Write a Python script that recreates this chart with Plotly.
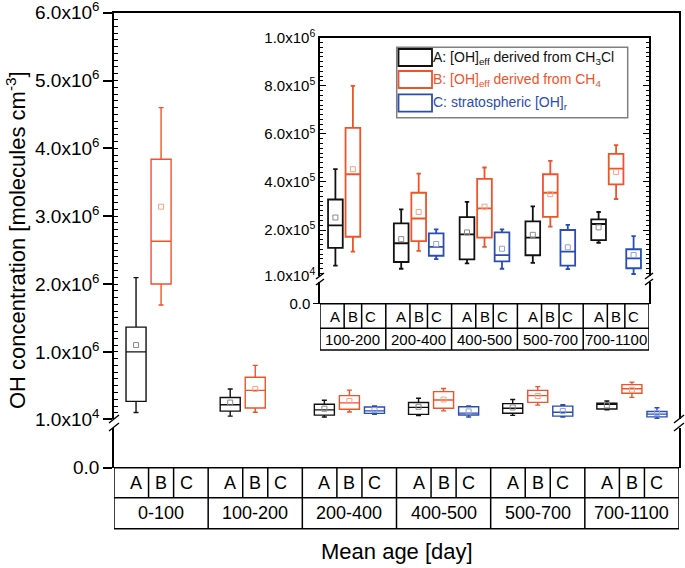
import plotly.graph_objects as go

W, H = 685, 568

groups = ["0-100", "100-200", "200-400", "400-500", "500-700", "700-1100"]
series = ["A", "B", "C"]
y_ticks_main = [1e4, 1e6, 2e6, 3e6, 4e6, 5e6, 6e6]
y_ticklabels_main = ["1.0x10<sup>4</sup>", "1.0x10<sup>6</sup>", "2.0x10<sup>6</sup>",
                     "3.0x10<sup>6</sup>", "4.0x10<sup>6</sup>", "5.0x10<sup>6</sup>",
                     "6.0x10<sup>6</sup>"]
y_ticks_inset = [1e4, 2e5, 4e5, 6e5, 8e5, 1e6]
y_ticklabels_inset = ["1.0x10<sup>4</sup>", "2.0x10<sup>5</sup>", "4.0x10<sup>5</sup>",
                      "6.0x10<sup>5</sup>", "8.0x10<sup>5</sup>", "1.0x10<sup>6</sup>"]

# Series A: [OH]eff derived from CH3Cl
a_low = [1.06e5, 0.52e5, 0.39e5, 0.61e5, 0.63e5, 1.47e5]
a_q1 = [2.70e5, 1.26e5, 0.67e5, 0.78e5, 0.95e5, 1.58e5]
a_med = [1.00e6, 2.19e5, 1.45e5, 1.82e5, 1.68e5, 2.25e5]
a_q3 = [1.365e6, 3.27e5, 2.28e5, 2.54e5, 2.36e5, 2.44e5]
a_high = [2.095e6, 4.53e5, 2.86e5, 3.17e5, 2.98e5, 2.75e5]
a_mean = [1.10e6, 2.52e5, 1.62e5, 1.90e5, 1.80e5, 2.11e5]
# Series B: [OH]eff derived from CH4
b_low = [1.69e6, 1.10e5, 1.13e5, 1.30e5, 2.14e5, 3.29e5]
b_q1 = [2.00e6, 1.72e5, 1.54e5, 1.68e5, 2.55e5, 3.90e5]
b_med = [2.63e6, 4.32e5, 2.48e5, 2.90e5, 3.55e5, 4.55e5]
b_q3 = [3.84e6, 6.25e5, 3.55e5, 4.13e5, 4.32e5, 5.17e5]
b_high = [4.60e6, 8.00e5, 4.35e5, 4.60e5, 4.88e5, 5.53e5]
b_mean = [3.14e6, 4.53e5, 2.75e5, 2.97e5, 3.49e5, 4.41e5]
# Series C: stratospheric [OH]r
c_low = [None, None, 0.79e5, 0.39e5, 0.37e5, 0.17e5]
c_q1 = [None, None, 0.93e5, 0.70e5, 0.52e5, 0.41e5]
c_med = [None, None, 1.30e5, 0.96e5, 1.10e5, 0.82e5]
c_q3 = [None, None, 1.86e5, 1.90e5, 2.00e5, 1.20e5]
c_high = [None, None, 2.03e5, 2.03e5, 2.21e5, 1.75e5]
c_mean = [None, None, 1.42e5, 1.22e5, 1.28e5, 0.96e5]

legend_texts = ["A: [OH]<sub>eff</sub> derived from CH<sub>3</sub>Cl",
                "B: [OH]<sub>eff</sub> derived from CH<sub>4</sub>",
                "C: stratospheric [OH]<sub>r</sub>"]

stats = {
    "A": (a_low, a_q1, a_med, a_q3, a_high, a_mean),
    "B": (b_low, b_q1, b_med, b_q3, b_high, b_mean),
    "C": (c_low, c_q1, c_med, c_q3, c_high, c_mean),
}
colors = {"A": "#111111", "B": "#F0522A", "C": "#2A4DB5"}
mean_colors = {"A": "#8a8a8a", "B": "#F6A488", "C": "#8FA2DC"}

FONT = "Liberation Sans, Arial, sans-serif"
GW = 3.76   # group width (in box-spacing units)
OFF = 0.88  # offset of first box from group start


def X(px):
    return px / W


def Y(py):
    return 1 - py / H


def pos(g, k):
    return g * GW + OFF + k


def tf(size, color="black"):
    return dict(family=FONT, color=color, size=size)


fig = go.Figure()

# ---------- boxes ----------
for name, (lo, q1, me, q3, hi, mn) in stats.items():
    for inset in (False, True):
        xs, L, Q1, M, Q3, U, MN = [], [], [], [], [], [], []
        for g in range(len(groups)):
            if lo[g] is None:
                continue
            if inset and g == 0:
                continue
            gg = g - 1 if inset else g
            xs.append(pos(gg, series.index(name)))
            L.append(lo[g]); Q1.append(q1[g]); M.append(me[g])
            Q3.append(q3[g]); U.append(hi[g]); MN.append(mn[g])
        xa, ya = ("x2", "y2") if inset else ("x", "y")
        fig.add_trace(go.Box(
            x=xs, q1=Q1, median=M, q3=Q3, lowerfence=L, upperfence=U,
            xaxis=xa, yaxis=ya, width=0.84 if inset else 0.8,
            whiskerwidth=0.3 if inset else 0.25,
            fillcolor="rgba(0,0,0,0)",
            line=dict(color=colors[name], width=1.8 if inset else 1.4),
            showlegend=False, hoverinfo="skip", boxpoints=False))
        fig.add_trace(go.Scatter(
            x=xs, y=MN, xaxis=xa, yaxis=ya, mode="markers",
            marker=dict(symbol="square-open", size=5, color=mean_colors[name],
                        line=dict(width=1, color=mean_colors[name])),
            showlegend=False, hoverinfo="skip"))

# dummy traces to create the lower (0.0) axis segments
fig.add_trace(go.Scatter(x=[None], y=[None], xaxis="x", yaxis="y3", showlegend=False))
fig.add_trace(go.Scatter(x=[None], y=[None], xaxis="x2", yaxis="y4", showlegend=False))

ycommon = dict(showgrid=False, zeroline=False, linecolor="black", tickcolor="black",
               automargin=False, ticklabeloverflow="allow")

fig.update_layout(
    width=W, height=H, autosize=False,
    margin=dict(l=0, r=0, t=0, b=0, pad=0, autoexpand=False),
    paper_bgcolor="white", plot_bgcolor="rgba(0,0,0,0)",
    boxmode="overlay",
    font=dict(family=FONT, color="black"),
    xaxis=dict(domain=[X(114), X(679)], range=[0, 6 * GW], anchor="y", side="top",
               showline=True, linewidth=1.5, showticklabels=False, ticks="",
               showgrid=False, zeroline=False, linecolor="black", automargin=False),
    yaxis=dict(domain=[Y(419), Y(12.7)], range=[1e4, 6e6], anchor="x",
               tickvals=y_ticks_main, ticktext=y_ticklabels_main,
               ticks="outside", ticklen=9, tickwidth=1.5,
               minor=dict(ticks="inside", ticklen=4, dtick=1e5, tick0=0, tickwidth=1,
                          tickcolor="black", showgrid=False),
               showline=True, mirror=True, linewidth=1.5, tickfont=tf(19), **ycommon),
    yaxis3=dict(domain=[Y(467.7), Y(428)], range=[0, 1], anchor="x",
                tickvals=[0], ticktext=["0.0"], ticks="outside", ticklen=9, tickwidth=1.5,
                showline=True, mirror=True, linewidth=1.5, tickfont=tf(19), **ycommon),
    xaxis2=dict(domain=[X(320), X(649)], range=[0, 5 * GW], anchor="y2", side="top",
                showline=True, linewidth=1.5, showticklabels=False, ticks="",
                showgrid=False, zeroline=False, linecolor="black", automargin=False),
    yaxis2=dict(domain=[Y(275.7), Y(37.7)], range=[1e4, 1e6], anchor="x2",
                tickvals=y_ticks_inset, ticktext=y_ticklabels_inset,
                ticks="inside", ticklen=6, tickwidth=1.3,
                minor=dict(ticks="inside", ticklen=3, dtick=2e4, tick0=0, tickwidth=1,
                           tickcolor="black", showgrid=False),
                showline=True, mirror="allticks", linewidth=1.5, tickfont=tf(15), **ycommon),
    yaxis4=dict(domain=[Y(303.7), Y(282)], range=[0, 1], anchor="x2",
                tickvals=[0], ticktext=["0.0"], ticks="outside", ticklen=5, tickwidth=1.3,
                showline=True, mirror=True, linewidth=1.5, tickfont=tf(15), **ycommon),
)

shapes = []
annotations = []


def ann(x, y, text, size, xref="paper", color="black", xanchor="center", angle=0):
    annotations.append(dict(xref=xref, yref="paper", x=x, y=y, text=text, showarrow=False,
                            xanchor=xanchor, yanchor="middle", textangle=angle,
                            font=tf(size, color)))


def table(xref, ngroups, group_offset, t0, t1, t2, fsize):
    line = dict(color="black", width=1.5)
    for yy in (t0, t1, t2):
        shapes.append(dict(type="line", xref=xref, yref="paper", x0=0, x1=ngroups * GW,
                           y0=Y(yy), y1=Y(yy), line=line))
    for g in range(ngroups + 1):
        shapes.append(dict(type="line", xref=xref, yref="paper", x0=g * GW, x1=g * GW,
                           y0=Y(t0), y1=Y(t2), line=line))
    for g in range(ngroups):
        for d in (0.5, 1.5):
            xv = g * GW + OFF + d
            shapes.append(dict(type="line", xref=xref, yref="paper", x0=xv, x1=xv,
                               y0=Y(t0), y1=Y(t1), line=line))
        for k, s in enumerate(series):
            ann(pos(g, k), Y((t0 + t1) / 2), s, fsize, xref=xref)
        ann(g * GW + GW / 2, Y((t1 + t2) / 2), groups[g + group_offset], fsize, xref=xref)


table("x", 6, 0, 467.7, 497.7, 528.7, 18)
table("x2", 5, 1, 303.7, 328.3, 350, 15)


def brk(xp, ya, yb, dx, dy):
    for yy in (ya, yb):
        shapes.append(dict(type="line", xref="paper", yref="paper",
                           x0=X(xp - dx), y0=Y(yy + dy), x1=X(xp + dx), y1=Y(yy - dy),
                           line=dict(color="black", width=1.5)))


brk(114, 419, 427, 5, 4)
brk(679, 419, 427, 5, 4)
brk(320, 276, 282, 4, 3)
brk(649, 276, 282, 4, 3)

# legend (drawn)
shapes.append(dict(type="rect", xref="paper", yref="paper", x0=X(396.7), x1=X(627.7),
                   y0=Y(117.7), y1=Y(47.3), line=dict(color="#808080", width=1.5),
                   fillcolor="white", layer="below"))
rows = [(49, 66), (71, 88), (94.3, 111.7)]
for (ta, tb), s, txt in zip(rows, series, legend_texts):
    shapes.append(dict(type="rect", xref="paper", yref="paper", x0=X(398.5), x1=X(432),
                       y0=Y(tb), y1=Y(ta), line=dict(color=colors[s], width=1.8)))
    ann(X(431), Y((ta + tb) / 2), txt, 14, color=colors[s], xanchor="left")

# axis titles
ann(X(396.5), Y(551), "Mean age [day]", 22)
ann(X(16), Y(240), "OH concentration [molecules cm<sup>-3</sup>]", 22, angle=-90)

fig.update_layout(shapes=shapes, annotations=annotations)
fig.write_html("out.html", config={"displayModeBar": False},
               post_script="document.body.style.margin='0px';")
